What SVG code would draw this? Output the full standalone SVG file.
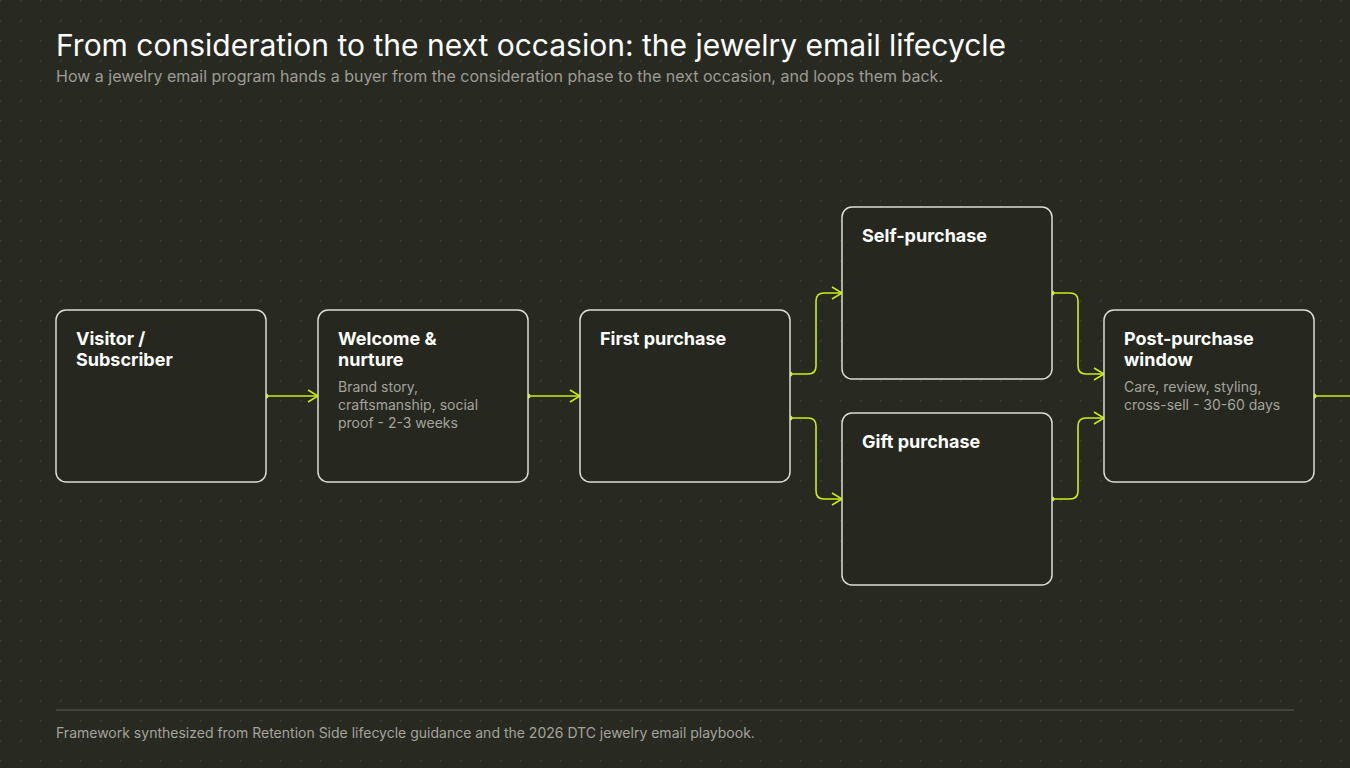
<svg xmlns="http://www.w3.org/2000/svg" width="1350" height="768" viewBox="0 0 1350 768">
  <defs>
    <pattern id="dots" x="0" y="0" width="20" height="20" patternUnits="userSpaceOnUse">
      <rect x="0" y="0" width="1.6" height="1.6" fill="#3a3c32"/>
    </pattern>
    <marker id="arrow" viewBox="0 0 12 14" refX="11" refY="7" markerWidth="12" markerHeight="14" markerUnits="userSpaceOnUse" orient="auto">
      <path d="M1,1 L11,7 L1,13" fill="none" stroke="#c8f00a" stroke-width="1.5"/>
    </marker>
    <marker id="dot" viewBox="0 0 6 6" refX="3" refY="3" markerWidth="6" markerHeight="6" markerUnits="userSpaceOnUse">
      <circle cx="3" cy="3" r="2.5" fill="#c8f00a"/>
    </marker>
  </defs>
  <style>
    .node rect { fill: #26281f; stroke: #dcdcd4; stroke-width: 1.5; }
    .ttl { font-family: Inter, "Liberation Sans", sans-serif; font-size: 18px; font-weight: 700; fill: #ffffff; }
    .desc { font-family: Inter, "Liberation Sans", sans-serif; font-size: 14px; fill: #a3a39b; }
    .edge { fill: none; stroke: #c8f00a; stroke-width: 1.6; marker-start: url(#dot); marker-end: url(#arrow); }
  </style>
  <rect width="1350" height="768" fill="#282a21"/>
  <rect width="1350" height="768" fill="url(#dots)"/>

  <g id="header">
    <text x="56" y="56" font-family="Inter, 'Liberation Sans', sans-serif" font-size="30" fill="#ffffff">From consideration to the next occasion: the jewelry email lifecycle</text>
    <text x="56" y="82" font-family="Inter, 'Liberation Sans', sans-serif" font-size="16" fill="#9c9c94">How a jewelry email program hands a buyer from the consideration phase to the next occasion, and loops them back.</text>
  </g>

  <g id="connectors">
    <path class="edge" d="M266,396 H318"/>
    <path class="edge" d="M528,396 H580"/>
    <path class="edge" d="M790,374 H808 Q816,374 816,366 V301 Q816,293 824,293 H842"/>
    <path class="edge" d="M790,418 H808 Q816,418 816,426 V491 Q816,499 824,499 H842"/>
    <path class="edge" d="M1052,293 H1070 Q1078,293 1078,301 V366 Q1078,374 1086,374 H1104"/>
    <path class="edge" d="M1052,499 H1070 Q1078,499 1078,491 V426 Q1078,418 1086,418 H1104"/>
    <path fill="none" stroke="#c8f00a" stroke-width="1.6" marker-start="url(#dot)" d="M1314,396 H1352"/>
  </g>

  <g id="node-visitor" class="node">
    <rect x="56" y="310" width="210" height="172" rx="10"/>
    <text class="ttl" x="76" y="345">Visitor /</text>
    <text class="ttl" x="76" y="366">Subscriber</text>
  </g>
  <g id="node-welcome" class="node">
    <rect x="318" y="310" width="210" height="172" rx="10"/>
    <text class="ttl" x="338" y="345">Welcome &amp;</text>
    <text class="ttl" x="338" y="366">nurture</text>
    <text class="desc" x="338" y="392">Brand story,</text>
    <text class="desc" x="338" y="410">craftsmanship, social</text>
    <text class="desc" x="338" y="428">proof - 2-3 weeks</text>
  </g>
  <g id="node-first" class="node">
    <rect x="580" y="310" width="210" height="172" rx="10"/>
    <text class="ttl" x="600" y="345">First purchase</text>
  </g>
  <g id="node-self" class="node">
    <rect x="842" y="207" width="210" height="172" rx="10"/>
    <text class="ttl" x="862" y="242">Self-purchase</text>
  </g>
  <g id="node-gift" class="node">
    <rect x="842" y="413" width="210" height="172" rx="10"/>
    <text class="ttl" x="862" y="448">Gift purchase</text>
  </g>
  <g id="node-post" class="node">
    <rect x="1104" y="310" width="210" height="172" rx="10"/>
    <text class="ttl" x="1124" y="345">Post-purchase</text>
    <text class="ttl" x="1124" y="366">window</text>
    <text class="desc" x="1124" y="392">Care, review, styling,</text>
    <text class="desc" x="1124" y="410">cross-sell - 30-60 days</text>
  </g>

  <g id="footer">
    <line x1="56" y1="710" x2="1294" y2="710" stroke="#4a4c41" stroke-width="1.5"/>
    <text x="56" y="738" font-family="Inter, 'Liberation Sans', sans-serif" font-size="14" fill="#a3a39b">Framework synthesized from Retention Side lifecycle guidance and the 2026 DTC jewelry email playbook.</text>
  </g>
</svg>
